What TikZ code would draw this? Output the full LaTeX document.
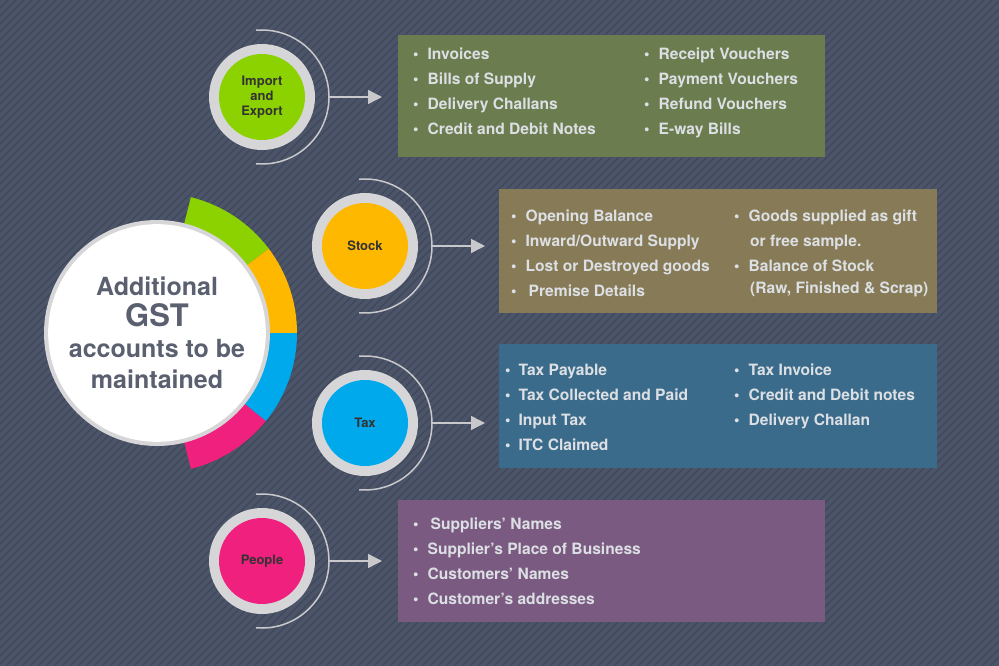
\documentclass[tikz,border=0pt]{standalone}
\usepackage{fontspec}
\setmainfont{TeX Gyre Heros}
\usetikzlibrary{positioning,arrows.meta}
\definecolor{bgcol}{HTML}{4B5468}
\definecolor{txtcol}{HTML}{DCE0E4}
\definecolor{darktxt}{HTML}{5A6070}
\definecolor{ringcol}{HTML}{D6D6D8}
\definecolor{greencol}{HTML}{8CD200}
\definecolor{yellowcol}{HTML}{FFB800}
\definecolor{bluecol}{HTML}{00A8EC}
\definecolor{pinkcol}{HTML}{F0207E}
\definecolor{boxgreen}{HTML}{6B7C4F}
\definecolor{boxbrown}{HTML}{877A56}
\definecolor{boxblue}{HTML}{3B6B8A}
\definecolor{boxpurple}{HTML}{7A5A80}
\begin{document}
\begin{tikzpicture}[x=1pt,y=-1pt]
    \tikzstyle{item}=[anchor=base west,inner sep=0pt,text=txtcol,font=\bfseries\fontsize{15.6}{18}\selectfont]
    \tikzstyle{lab}=[align=center,text=black!80,font=\bfseries\fontsize{13}{15}\selectfont]
    \tikzstyle{fwd}=[draw=ringcol!85!gray,line width=1.5pt]
    \tikzstyle{outer}=[circle,fill=ringcol,minimum size=106pt,inner sep=0pt]

    % background
    \useasboundingbox (0,0) rectangle (999,666);
    \begin{scope}
        \clip (0,0) rectangle (999,666);
        \fill[bgcol] (0,0) rectangle (999,666);
        \foreach \i in {0,8,...,1660}
            \draw[black!30!bgcol,line width=1.2pt,opacity=0.5] (\i,0) -- (\i-666,666);
    \end{scope}

    % coloured band
    \coordinate (ctr) at (157,333);
    \fill[greencol] (ctr) -- ++(-76:140) arc[start angle=-76,end angle=-37,radius=140] -- cycle;
    \fill[yellowcol] (ctr) -- ++(-37:140) arc[start angle=-37,end angle=0,radius=140] -- cycle;
    \fill[bluecol] (ctr) -- ++(0:140) arc[start angle=0,end angle=39,radius=140] -- cycle;
    \fill[pinkcol] (ctr) -- ++(39:140) arc[start angle=39,end angle=76,radius=140] -- cycle;

    % central circle
    \node[circle,fill=ringcol,minimum size=226pt] (main) at (ctr) {};
    \node[circle,fill=white,minimum size=194pt,align=center,text=darktxt,
          font=\bfseries\fontsize{25}{31}\selectfont] (maintxt) at (ctr)
          {Additional\\{\fontsize{31}{31}\selectfont GST}\\accounts to be\\maintained};

    % small circles
    \node[outer] (imp) at (262,97) {};
    \node[outer] (stk) at (365,246) {};
    \node[outer] (tax) at (365,423) {};
    \node[outer] (ppl) at (262,561) {};
    \node[circle,fill=greencol,minimum size=86pt,lab] (impin) at (imp) {Import\\and\\Export};
    \node[circle,fill=yellowcol,minimum size=86pt,lab] (stkin) at (stk) {Stock};
    \node[circle,fill=bluecol,minimum size=86pt,lab] (taxin) at (tax) {Tax};
    \node[circle,fill=pinkcol,minimum size=86pt,lab] (pplin) at (ppl) {People};

    % arcs
    \foreach \c in {imp,stk,tax,ppl}
        \draw[fwd] (\c.center) ++(95:67) arc[start angle=95,end angle=-95,radius=67];

    % boxes
    \fill[boxgreen] (398,35) rectangle (825,157);
    \fill[boxbrown] (499,189) rectangle (937,313);
    \fill[boxblue] (499,344) rectangle (937,468);
    \fill[boxpurple] (398,500) rectangle (825,622);
    \coordinate (impbox) at (382,97);
    \coordinate (stkbox) at (485,246);
    \coordinate (taxbox) at (485,423);
    \coordinate (pplbox) at (382,561);

    \tikzstyle{tip}=[-{Triangle[length=14pt,width=14pt]}]
    \draw[fwd,tip] ([xshift=67pt]imp.center) -- (impbox);
    \draw[fwd,tip] ([xshift=67pt]stk.center) -- (stkbox);
    \draw[fwd,tip] ([xshift=67pt]tax.center) -- (taxbox);
    \draw[fwd,tip] ([xshift=67pt]ppl.center) -- (pplbox);

    % box texts
    \node[item] at (413,60) {\textbullet\hspace{9pt}Invoices};
    \node[item] at (413,85) {\textbullet\hspace{9pt}Bills of Supply};
    \node[item] at (413,110) {\textbullet\hspace{9pt}Delivery Challans};
    \node[item] at (413,135) {\textbullet\hspace{9pt}Credit and Debit Notes};
    \node[item] at (644,60) {\textbullet\hspace{9pt}Receipt Vouchers};
    \node[item] at (644,85) {\textbullet\hspace{9pt}Payment Vouchers};
    \node[item] at (644,110) {\textbullet\hspace{9pt}Refund Vouchers};
    \node[item] at (644,135) {\textbullet\hspace{9pt}E-way Bills};

    \node[item] at (511,221) {\textbullet\hspace{9pt}Opening Balance};
    \node[item] at (511,246) {\textbullet\hspace{9pt}Inward/Outward Supply};
    \node[item] at (511,271) {\textbullet\hspace{9pt}Lost or Destroyed goods};
    \node[item] at (511,296) {\textbullet\hspace{12pt}Premise Details};
    \node[item] at (734,221) {\textbullet\hspace{9pt}Goods supplied as gift};
    \node[item] at (750,246) {or free sample.};
    \node[item] at (734,271) {\textbullet\hspace{9pt}Balance of Stock};
    \node[item] at (750,293) {(Raw, Finished \& Scrap)};

    \node[item] at (505,375) {\textbullet\hspace{8pt}Tax Payable};
    \node[item] at (505,400) {\textbullet\hspace{8pt}Tax Collected and Paid};
    \node[item] at (505,425) {\textbullet\hspace{8pt}Input Tax};
    \node[item] at (505,450) {\textbullet\hspace{8pt}ITC Claimed};
    \node[item] at (734,375) {\textbullet\hspace{9pt}Tax Invoice};
    \node[item] at (734,400) {\textbullet\hspace{9pt}Credit and Debit notes};
    \node[item] at (734,425) {\textbullet\hspace{9pt}Delivery Challan};

    \node[item] at (413,529) {\textbullet\hspace{12pt}Suppliers’ Names};
    \node[item] at (413,554) {\textbullet\hspace{9pt}Supplier’s Place of Business};
    \node[item] at (413,579) {\textbullet\hspace{9pt}Customers’ Names};
    \node[item] at (413,604) {\textbullet\hspace{9pt}Customer’s addresses};
\end{tikzpicture}
\end{document}
